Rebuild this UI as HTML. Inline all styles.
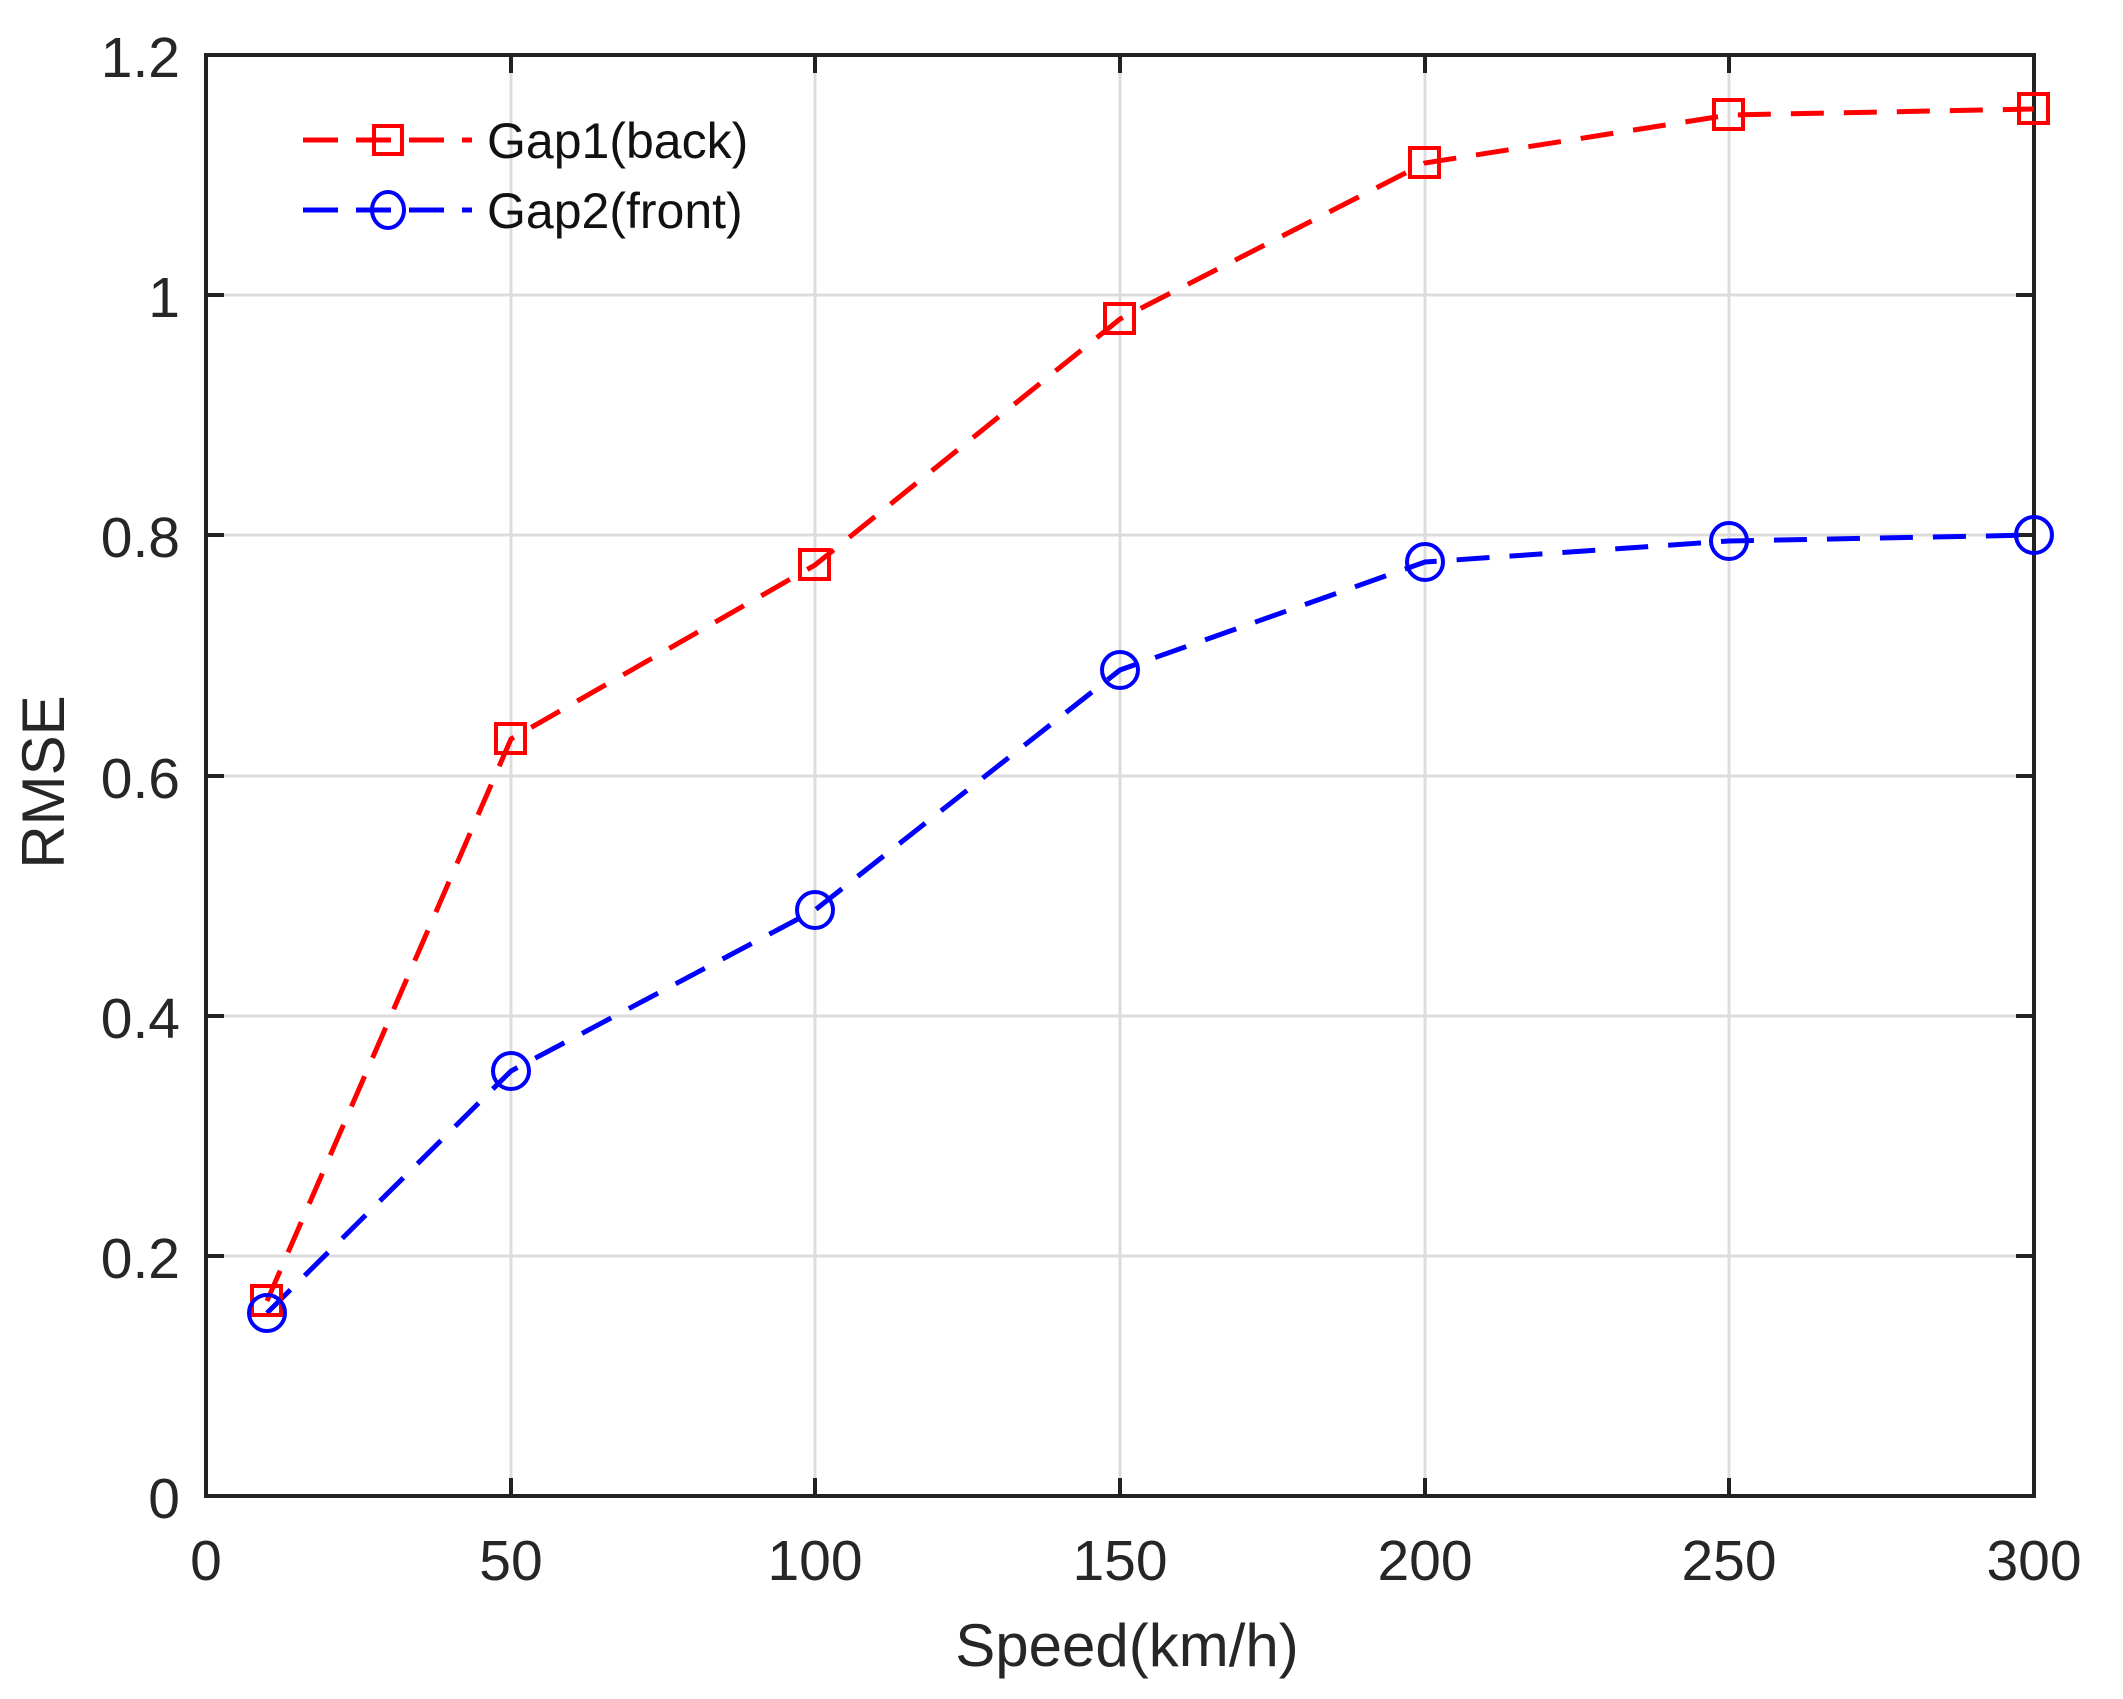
<!DOCTYPE html>
<html><head><meta charset="utf-8"><style>html,body{margin:0;padding:0;background:#fff}svg{display:block}</style></head>
<body>
<svg width="2123" height="1699" viewBox="0 0 2123 1699" xmlns="http://www.w3.org/2000/svg" font-family="Liberation Sans, sans-serif">
<rect width="2123" height="1699" fill="#fff"/>
<g stroke="#dcdcdc" stroke-width="3">
<line x1="511" y1="55" x2="511" y2="1496"/><line x1="815" y1="55" x2="815" y2="1496"/><line x1="1120" y1="55" x2="1120" y2="1496"/><line x1="1425" y1="55" x2="1425" y2="1496"/><line x1="1729" y1="55" x2="1729" y2="1496"/>
<line x1="206" y1="1256" x2="2034" y2="1256"/><line x1="206" y1="1016" x2="2034" y2="1016"/><line x1="206" y1="776" x2="2034" y2="776"/><line x1="206" y1="535" x2="2034" y2="535"/><line x1="206" y1="295" x2="2034" y2="295"/>
</g>
<g stroke="#222" stroke-width="4">
<rect x="206" y="55" width="1828" height="1441" fill="none"/>
<path d="M511 1496v-18M815 1496v-18M1120 1496v-18M1425 1496v-18M1729 1496v-18M511 55v18M815 55v18M1120 55v18M1425 55v18M1729 55v18M206 1256h18M206 1016h18M206 776h18M206 535h18M206 295h18M2034 1256h-18M2034 1016h-18M2034 776h-18M2034 535h-18M2034 295h-18"/>
</g>
<g font-size="57" fill="#262626" text-anchor="end">
<text x="180" y="1518">0</text><text x="180" y="1278">0.2</text><text x="180" y="1038">0.4</text><text x="180" y="798">0.6</text><text x="180" y="557">0.8</text><text x="180" y="317">1</text><text x="180" y="77">1.2</text>
</g>
<g font-size="57" fill="#262626" text-anchor="middle">
<text x="206" y="1580">0</text><text x="511" y="1580">50</text><text x="815" y="1580">100</text><text x="1120" y="1580">150</text><text x="1425" y="1580">200</text><text x="1729" y="1580">250</text><text x="2034" y="1580">300</text>
<text x="1127" y="1666" font-size="60">Speed(km/h)</text>
<text transform="translate(64,782) rotate(-90)" font-size="60">RMSE</text>
</g>
<g fill="none" stroke-width="5" stroke-dasharray="33,20">
<polyline stroke="#f00" points="267,1301 511,739 815,565 1120,319 1425,163 1729,115 2034,109"/>
<polyline stroke="#00f" points="267,1313 511,1071 815,910 1120,670 1425,562 1729,541 2034,535"/>
</g>
<g fill="none" stroke="#f00" stroke-width="4">
<rect x="252" y="1286" width="29" height="29"/><rect x="496" y="724" width="29" height="29"/><rect x="800" y="550" width="29" height="29"/><rect x="1105" y="304" width="29" height="29"/><rect x="1410" y="148" width="29" height="29"/><rect x="1714" y="100" width="29" height="29"/><rect x="2019" y="94" width="29" height="29"/>
</g>
<g fill="none" stroke="#00f" stroke-width="4">
<circle cx="267" cy="1313" r="18"/><circle cx="511" cy="1071" r="18"/><circle cx="815" cy="910" r="18"/><circle cx="1120" cy="670" r="18"/><circle cx="1425" cy="562" r="18"/><circle cx="1729" cy="541" r="18"/><circle cx="2034" cy="535" r="18"/>
</g>
<g stroke-width="5" fill="none">
<line x1="303" y1="140" x2="472" y2="140" stroke="#f00" stroke-dasharray="35,18"/>
<rect x="374" y="126" width="28" height="28" stroke="#f00" stroke-width="4"/>
<line x1="303" y1="210" x2="472" y2="210" stroke="#00f" stroke-dasharray="35,18"/>
<ellipse cx="388" cy="210" rx="16" ry="18" stroke="#00f" stroke-width="4"/>
</g>
<g font-size="50" fill="#111">
<text x="487" y="158">Gap1(back)</text>
<text x="487" y="228">Gap2(front)</text>
</g>
</svg>
</body></html>
